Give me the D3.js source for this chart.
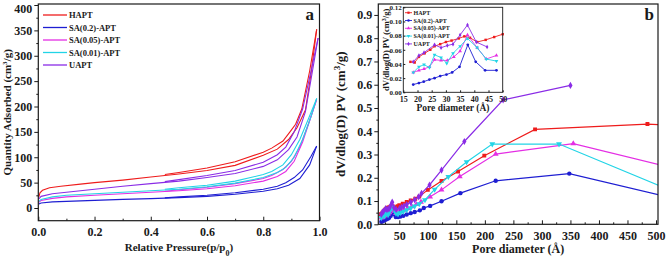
<!DOCTYPE html>
<html>
<head>
<meta charset="utf-8">
<script src="https://cdn.jsdelivr.net/npm/d3@7"></script>
<style>
  body { margin: 0; background: #fff; }
  svg { display: block; font-family: "Liberation Serif", "Times New Roman", serif; font-weight: bold; }
</style>
</head>
<body>
<svg id="chart" width="666" height="257"></svg>
<script>
// Sample names, colours, symbols
const sampleNames = ['HAPT', 'SA(0.2)-APT', 'SA(0.05)-APT', 'SA(0.01)-APT', 'UAPT']
const sampleColors = ['#ee1c1c', '#1e1ed2', '#e42ee4', '#22d4e6', '#8a2ce6']

// Panel a: isotherms, [p/p0, quantity adsorbed]
const hAptAds = [[0.002, 22], [0.006, 30], [0.015, 35], [0.04, 40], [0.08, 43], [0.15, 47], [0.2, 50], [0.3, 55], [0.4, 61], [0.5, 67], [0.6, 74], [0.7, 84], [0.8, 104], [0.85, 116], [0.89, 135], [0.92, 158], [0.95, 193], [0.97, 265], [0.99, 352]]
const hAptDes = [[0.99, 352], [0.965, 270], [0.937, 195], [0.915, 165], [0.895, 150], [0.87, 132], [0.83, 118], [0.8, 110], [0.7, 91], [0.6, 79], [0.5, 70], [0.45, 66]]
const sa02Ads = [[0.002, 8], [0.01, 10], [0.05, 12], [0.1, 13], [0.2, 15], [0.3, 17], [0.4, 18.5], [0.5, 20.5], [0.6, 23], [0.7, 27], [0.8, 33], [0.85, 38], [0.89, 45], [0.93, 58], [0.965, 85], [0.99, 122]]
const sa02Des = [[0.99, 122], [0.97, 102], [0.94, 75], [0.91, 60], [0.88, 50], [0.85, 43], [0.8, 37], [0.7, 30], [0.6, 25], [0.5, 22], [0.45, 20]]
const sa005Ads = [[0.002, 11], [0.01, 15], [0.05, 19], [0.1, 22], [0.2, 25], [0.3, 28], [0.4, 31], [0.5, 34], [0.6, 38], [0.7, 44], [0.8, 53], [0.85, 62], [0.88, 72], [0.91, 92], [0.94, 130], [0.97, 180], [0.99, 214]]
const sa005Des = [[0.99, 214], [0.96, 165], [0.93, 120], [0.9, 92], [0.87, 76], [0.83, 64], [0.8, 58], [0.7, 48], [0.6, 41], [0.5, 36], [0.45, 33]]
const sa001Ads = [[0.002, 13], [0.01, 17], [0.05, 22], [0.1, 25], [0.2, 28], [0.3, 31], [0.4, 34], [0.5, 37], [0.6, 42], [0.7, 49], [0.8, 60], [0.85, 70], [0.88, 80], [0.91, 100], [0.94, 135], [0.97, 180], [0.99, 216]]
const sa001Des = [[0.99, 216], [0.96, 175], [0.93, 135], [0.9, 105], [0.87, 85], [0.83, 72], [0.8, 66], [0.7, 53], [0.6, 45], [0.5, 40], [0.45, 37]]
const uAptAds = [[0.002, 18], [0.01, 23], [0.05, 28], [0.1, 31], [0.2, 37], [0.3, 43], [0.4, 48], [0.5, 53], [0.6, 60], [0.7, 68], [0.8, 82], [0.85, 95], [0.89, 115], [0.92, 140], [0.95, 190], [0.975, 270], [0.995, 335]]
const uAptDes = [[0.995, 335], [0.97, 270], [0.94, 195], [0.91, 150], [0.88, 120], [0.85, 105], [0.8, 90], [0.7, 74], [0.6, 64], [0.5, 56], [0.45, 52]]

// Panel b: pore size distribution, [pore diameter (A), dV/dlog(D)]
const hAptPore = [[17.5, 0.043], [19, 0.042], [20.5, 0.050], [22.5, 0.055], [24.5, 0.060], [26, 0.065], [28, 0.068], [30, 0.071], [32, 0.073], [34.5, 0.076], [36.5, 0.079], [38.5, 0.077], [41, 0.071], [44, 0.074], [47, 0.078], [50, 0.082], [56, 0.089], [63, 0.096], [70, 0.103], [78, 0.110], [85, 0.119], [100, 0.148], [124, 0.186], [153, 0.227], [199, 0.295], [288, 0.408], [485, 0.431], [510, 0.428]]
const sa02Pore = [[18.5, 0.011], [20.5, 0.013], [22.2, 0.015], [24.2, 0.018], [26, 0.020], [28, 0.023], [30.2, 0.025], [32.2, 0.028], [34.8, 0.036], [37.7, 0.067], [40.5, 0.043], [43.8, 0.031], [47.8, 0.031], [52, 0.033], [57, 0.037], [63, 0.042], [70, 0.048], [77, 0.053], [86, 0.060], [93, 0.070], [104, 0.079], [124, 0.099], [157, 0.134], [219, 0.187], [348, 0.218], [510, 0.124]]
const sa005Pore = [[18.5, 0.028], [20.5, 0.031], [22.3, 0.033], [24.2, 0.036], [26, 0.046], [28.3, 0.045], [30.5, 0.045], [32.8, 0.050], [35, 0.058], [37.6, 0.081], [41, 0.063], [44.2, 0.047], [47.8, 0.052], [53, 0.056], [58, 0.061], [65, 0.068], [72, 0.076], [80, 0.086], [88, 0.096], [104, 0.118], [124, 0.148], [156, 0.205], [219, 0.302], [355, 0.347], [510, 0.254]]
const sa001Pore = [[18.5, 0.028], [20.5, 0.036], [22.3, 0.039], [24.2, 0.035], [26, 0.053], [28.3, 0.049], [30.3, 0.041], [32.5, 0.055], [35, 0.065], [37.6, 0.076], [41, 0.063], [44.2, 0.047], [47.8, 0.044], [52, 0.050], [57, 0.055], [63, 0.062], [70, 0.070], [77, 0.078], [85, 0.088], [95, 0.105], [112, 0.150], [136, 0.205], [168, 0.268], [213, 0.345], [330, 0.345], [510, 0.162]]
const uAptPore = [[18.5, 0.043], [20.5, 0.052], [22.3, 0.056], [26, 0.067], [28.3, 0.063], [30.5, 0.066], [32.5, 0.068], [35, 0.081], [37.6, 0.095], [40.7, 0.071], [44.5, 0.064], [50.5, 0.069], [54, 0.073], [58, 0.078], [63, 0.085], [70, 0.095], [77, 0.105], [84, 0.118], [89, 0.133], [103, 0.169], [124, 0.233], [164, 0.356], [232, 0.535], [350, 0.597]]

// Tick values
const aXTicks = [0, 0.2, 0.4, 0.6, 0.8, 1.0]
const aYTicks = [0, 50, 100, 150, 200, 250, 300, 350, 400]
const bXTicks = [50, 100, 150, 200, 250, 300, 350, 400, 450, 500]
const bYTicks = [0, 0.1, 0.2, 0.3, 0.4, 0.5, 0.6, 0.7, 0.8, 0.9]
const iXTicks = [15, 20, 25, 30, 35, 40, 45, 50]
const iYTicks = [0, 0.02, 0.04, 0.06, 0.08, 0.10, 0.12]

const symbols = [d3.symbolSquare, d3.symbolCircle, d3.symbolTriangle, d3.symbolTriangle, d3.symbolDiamond]
const symbolRot = [0, 0, 0, 180, 0]
const isoAds = [hAptAds, sa02Ads, sa005Ads, sa001Ads, uAptAds]
const isoDes = [hAptDes, sa02Des, sa005Des, sa001Des, uAptDes]
const pores = [hAptPore, sa02Pore, sa005Pore, sa001Pore, uAptPore]

const svg = d3.select('#chart')
const ink = '#1a1a1a'

function frame (g, x0, y0, x1, y1, w) {
  g.append('rect').attr('x', x0).attr('y', y0).attr('width', x1 - x0).attr('height', y1 - y0)
    .attr('fill', 'none').attr('stroke', ink).attr('stroke-width', w)
}

function styleAxis (g, size) {
  g.select('.domain').remove()
  g.selectAll('line').attr('stroke', ink).attr('stroke-width', 1)
  g.selectAll('text').attr('fill', ink).style('font-size', size + 'px')
    .style('font-family', '"Liberation Serif", serif').style('font-weight', 'bold')
}

// ---------- Panel a ----------
const xA = d3.scaleLinear().domain([0, 1]).range([38.3, 319.5])
const yA = d3.scaleLinear().domain([-25, 402]).range([220.7, 4])
const gA = svg.append('g')

gA.append('g').attr('transform', `translate(0,${yA.range()[0]})`)
  .call(d3.axisBottom(xA).tickValues(aXTicks).tickFormat(d3.format('.1f')).tickSizeInner(-4).tickSizeOuter(0).tickPadding(7))
  .call(g => styleAxis(g, 12))
gA.append('g').attr('transform', `translate(0,${yA.range()[0]})`)
  .call(d3.axisBottom(xA).tickValues([0.1, 0.3, 0.5, 0.7, 0.9]).tickFormat('').tickSizeInner(-2).tickSizeOuter(0))
  .call(g => styleAxis(g, 12))
gA.append('g').attr('transform', `translate(${xA.range()[0]},0)`)
  .call(d3.axisLeft(yA).tickValues(aYTicks).tickSizeInner(4).tickSizeOuter(0).tickPadding(2))
  .call(g => styleAxis(g, 12))
  // top label sits on the edge: nudge it down so it stays inside
  .call(g => g.selectAll('.tick text').filter(d => d === 400).attr('dy', '0.6em'))
gA.append('g').attr('transform', `translate(${xA.range()[0]},0)`)
  .call(d3.axisLeft(yA).tickValues([25, 75, 125, 175, 225, 275, 325, 375]).tickFormat('').tickSizeInner(2).tickSizeOuter(0))
  .call(g => styleAxis(g, 12))

const lineA = d3.line().x(d => xA(d[0])).y(d => yA(d[1]))
sampleNames.forEach((n, i) => {
  [isoAds[i], isoDes[i]].forEach(arr => {
    gA.append('path').datum(arr).attr('d', lineA)
      .attr('fill', 'none').attr('stroke', sampleColors[i]).attr('stroke-width', 1.1)
  })
})
frame(gA, 38.3, 4, 319.5, 220.7, 1.2)

// legend a
sampleNames.forEach((n, i) => {
  const y = 15 + i * 12.5
  gA.append('line').attr('x1', 43).attr('x2', 67).attr('y1', y).attr('y2', y)
    .attr('stroke', sampleColors[i]).attr('stroke-width', 1.3)
  gA.append('text').attr('x', 69).attr('y', y + 3).style('font-size', '8.5px').attr('fill', ink).text(n)
})
gA.append('text').attr('x', 314).attr('y', 20).attr('text-anchor', 'end').style('font-size', '17px').attr('fill', ink).text('a')

gA.append('text').attr('x', (38.3 + 319.5) / 2).attr('y', 251).attr('text-anchor', 'middle')
  .style('font-size', '11px').attr('fill', ink)
  .call(t => {
    t.append('tspan').text('Relative Pressure(p/p')
    t.append('tspan').attr('baseline-shift', 'sub').style('font-size', '8px').text('0')
    t.append('tspan').text(')')
  })
gA.append('text').attr('transform', `translate(11,${(4 + 220.7) / 2}) rotate(-90)`).attr('text-anchor', 'middle')
  .style('font-size', '11px').attr('fill', ink)
  .call(t => {
    t.append('tspan').text('Quantity Adsorbed (cm')
    t.append('tspan').attr('baseline-shift', 'super').style('font-size', '7px').text('3')
    t.append('tspan').text('/g)')
  })

// ---------- Panel b ----------
const xB = d3.scaleLinear().domain([13.2, 503.5]).range([378.3, 658])
const yB = d3.scaleLinear().domain([0, 0.947]).range([224.3, 4])
const gB = svg.append('g')

svg.append('clipPath').attr('id', 'clipB').append('rect')
  .attr('x', 378.3).attr('y', 4).attr('width', 658 - 378.3).attr('height', 224.3 - 4)

gB.append('g').attr('transform', `translate(0,${yB.range()[0]})`)
  .call(d3.axisBottom(xB).tickValues(bXTicks).tickSizeInner(-4).tickSizeOuter(0).tickPadding(7))
  .call(g => styleAxis(g, 12))
gB.append('g').attr('transform', `translate(0,${yB.range()[0]})`)
  .call(d3.axisBottom(xB).tickValues([25, 75, 125, 175, 225, 275, 325, 375, 425, 475]).tickFormat('').tickSizeInner(-2).tickSizeOuter(0))
  .call(g => styleAxis(g, 12))
gB.append('g').attr('transform', `translate(${xB.range()[0]},0)`)
  .call(d3.axisLeft(yB).tickValues(bYTicks).tickFormat(d3.format('.1f')).tickSizeInner(4).tickSizeOuter(0).tickPadding(2))
  .call(g => styleAxis(g, 12))
gB.append('g').attr('transform', `translate(${xB.range()[0]},0)`)
  .call(d3.axisLeft(yB).tickValues([0.05, 0.15, 0.25, 0.35, 0.45, 0.55, 0.65, 0.75, 0.85]).tickFormat('').tickSizeInner(2).tickSizeOuter(0))
  .call(g => styleAxis(g, 12))

const plotB = gB.append('g').attr('clip-path', 'url(#clipB)')
const lineB = d3.line().x(d => xB(d[0])).y(d => yB(d[1]))
sampleNames.forEach((n, i) => {
  plotB.append('path').datum(pores[i]).attr('d', lineB)
    .attr('fill', 'none').attr('stroke', sampleColors[i]).attr('stroke-width', 1.2)
  plotB.selectAll(null).data(pores[i]).enter().append('path')
    .attr('d', d3.symbol().type(symbols[i]).size(15))
    .attr('transform', d => `translate(${xB(d[0])},${yB(d[1])}) rotate(${symbolRot[i]})`)
    .attr('fill', sampleColors[i])
})
frame(gB, 378.3, 4, 658, 224.3, 1.2)
gB.append('text').attr('x', 654).attr('y', 20).attr('text-anchor', 'end').style('font-size', '17px').attr('fill', ink).text('b')

gB.append('text').attr('x', (378.3 + 658) / 2).attr('y', 253).attr('text-anchor', 'middle')
  .style('font-size', '12px').attr('fill', ink).text('Pore diameter (Å)')
gB.append('text').attr('transform', `translate(345,${(4 + 224.3) / 2}) rotate(-90)`).attr('text-anchor', 'middle')
  .style('font-size', '13px').attr('fill', ink)
  .call(t => {
    t.append('tspan').text('dV/dlog(D) PV (cm')
    t.append('tspan').attr('baseline-shift', 'super').style('font-size', '9px').text('3')
    t.append('tspan').text('/g)')
  })

// ---------- Inset ----------
const xI = d3.scaleLinear().domain([15, 50]).range([403.3, 502.7])
const yI = d3.scaleLinear().domain([0, 0.12]).range([92.3, 7.3])
const gI = svg.append('g')
gI.append('rect').attr('x', 403.3).attr('y', 7.3).attr('width', 502.7 - 403.3).attr('height', 92.3 - 7.3).attr('fill', '#fff')

gI.append('g').attr('transform', `translate(0,${yI.range()[0]})`)
  .call(d3.axisBottom(xI).tickValues(iXTicks).tickSizeInner(-2).tickSizeOuter(0).tickPadding(4))
  .call(g => styleAxis(g, 8))
gI.append('g').attr('transform', `translate(${xI.range()[0]},0)`)
  .call(d3.axisLeft(yI).tickValues(iYTicks).tickFormat(d3.format('.2f')).tickSizeInner(-2).tickSizeOuter(0).tickPadding(1.5))
  .call(g => styleAxis(g, 7))

const lineI = d3.line().x(d => xI(d[0])).y(d => yI(d[1]))
sampleNames.forEach((n, i) => {
  const pts = pores[i].filter(d => d[0] <= 50)
  gI.append('path').datum(pts).attr('d', lineI)
    .attr('fill', 'none').attr('stroke', sampleColors[i]).attr('stroke-width', 0.9)
  gI.selectAll(null).data(pts).enter().append('path')
    .attr('d', d3.symbol().type(symbols[i]).size(6))
    .attr('transform', d => `translate(${xI(d[0])},${yI(d[1])}) rotate(${symbolRot[i]})`)
    .attr('fill', sampleColors[i])
})
frame(gI, 403.3, 7.3, 502.7, 92.3, 0.9)

// inset legend
sampleNames.forEach((n, i) => {
  const y = 12.7 + i * 7.8
  gI.append('line').attr('x1', 405).attr('x2', 412).attr('y1', y).attr('y2', y)
    .attr('stroke', sampleColors[i]).attr('stroke-width', 0.9)
  gI.append('path').attr('d', d3.symbol().type(symbols[i]).size(5))
    .attr('transform', `translate(408.5,${y}) rotate(${symbolRot[i]})`).attr('fill', sampleColors[i])
  gI.append('text').attr('x', 413.5).attr('y', y + 2).style('font-size', '6px').attr('fill', ink).text(n)
})

gI.append('text').attr('x', (403.3 + 502.7) / 2).attr('y', 111).attr('text-anchor', 'middle')
  .style('font-size', '9.5px').attr('fill', ink).text('Pore diameter (Å)')
gI.append('text').attr('transform', `translate(389,${(7.3 + 92.3) / 2}) rotate(-90)`).attr('text-anchor', 'middle')
  .style('font-size', '8.5px').attr('fill', ink)
  .call(t => {
    t.append('tspan').text('dV/dlog(D) PV (cm')
    t.append('tspan').attr('baseline-shift', 'super').style('font-size', '6px').text('3')
    t.append('tspan').text('/g)')
  })
</script>
</body>
</html>
